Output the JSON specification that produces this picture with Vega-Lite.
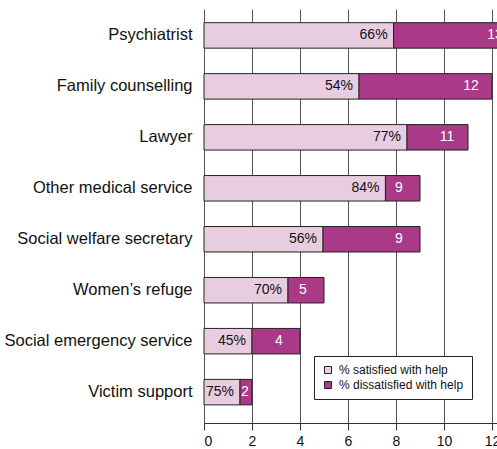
{
  "$schema": "https://vega.github.io/schema/vega-lite/v6.json",
  "width": 312,
  "height": 414,
  "autosize": {"type": "none"},
  "padding": {"left": 204, "top": 9, "right": 0, "bottom": 26},
  "background": "white",
  "config": {"view": {"stroke": null}, "font": "Liberation Sans"},
  "data": {"values": [
    {"service": "Psychiatrist", "sat": 7.9, "total": 13, "pct": "66%"},
    {"service": "Family counselling", "sat": 6.46, "total": 12, "pct": "54%"},
    {"service": "Lawyer", "sat": 8.46, "total": 11, "pct": "77%"},
    {"service": "Other medical service", "sat": 7.56, "total": 9, "pct": "84%"},
    {"service": "Social welfare secretary", "sat": 4.96, "total": 9, "pct": "56%"},
    {"service": "Women’s refuge", "sat": 3.5, "total": 5, "pct": "70%"},
    {"service": "Social emergency service", "sat": 2.0, "total": 4, "pct": "45%"},
    {"service": "Victim support", "sat": 1.5, "total": 2, "pct": "75%"}
  ]},
  "encoding": {
    "y": {
      "field": "service", "type": "nominal", "sort": null,
      "scale": {"paddingInner": 0.5, "paddingOuter": 0.312, "align": 0.43},
      "axis": {"title": null, "ticks": false, "tickSize": 0, "domain": false, "grid": false,
               "labelFontSize": 16.5, "labelPadding": 12, "labelColor": "#111", "labelLimit": 0,
               "labelFont": "Liberation Sans"}
    }
  },
  "layer": [
    {
      "mark": {"type": "bar", "stroke": "#222", "strokeWidth": 1},
      "encoding": {
        "x": {"field": "sat", "type": "quantitative",
              "scale": {"domain": [0, 13], "nice": false},
              "axis": {"title": null, "values": [0, 2, 4, 6, 8, 10, 12], "grid": true,
                       "gridColor": "#555", "gridWidth": 1, "domainColor": "#333",
                       "tickColor": "#333", "tickSize": 7, "labelFontSize": 14,
                       "labelColor": "#111", "labelPadding": 4, "labelFont": "Liberation Sans"}},
        "color": {"datum": "% satisfied with help", "type": "nominal",
                  "scale": {"domain": ["% satisfied with help", "% dissatisfied with help"],
                            "range": ["#E8CDE1", "#AA3A87"]},
                  "legend": {"orient": "none", "legendX": 110, "legendY": 347, "title": null,
                             "fillColor": "white", "strokeColor": "#222", "padding": 8,
                             "symbolType": "square", "symbolSize": 49, "symbolStrokeColor": "#222",
                             "symbolStrokeWidth": 1, "symbolOpacity": 1, "labelFontSize": 12,
                             "labelColor": "#111", "rowPadding": 3, "labelOffset": 5,
                             "labelFont": "Liberation Sans", "labelLimit": 0}}
      }
    },
    {
      "mark": {"type": "bar", "stroke": "#222", "strokeWidth": 1},
      "encoding": {
        "x": {"field": "sat", "type": "quantitative"},
        "x2": {"field": "total"},
        "color": {"datum": "% dissatisfied with help", "type": "nominal"}
      }
    },
    {
      "mark": {"type": "text", "align": "right", "baseline": "middle", "dx": -6, "fontSize": 14, "color": "#111"},
      "encoding": {
        "x": {"field": "sat", "type": "quantitative"},
        "text": {"field": "pct"}
      }
    },
    {
      "transform": [{"filter": "datum.total >= 3"}],
      "mark": {"type": "text", "align": "center", "baseline": "middle", "dx": -21, "fontSize": 14, "color": "white"},
      "encoding": {
        "x": {"field": "total", "type": "quantitative"},
        "text": {"field": "total", "type": "quantitative"}
      }
    },
    {
      "transform": [{"filter": "datum.total < 3"}],
      "mark": {"type": "text", "align": "center", "baseline": "middle", "dx": -7, "fontSize": 14, "color": "white"},
      "encoding": {
        "x": {"field": "total", "type": "quantitative"},
        "text": {"field": "total", "type": "quantitative"}
      }
    }
  ]
}
